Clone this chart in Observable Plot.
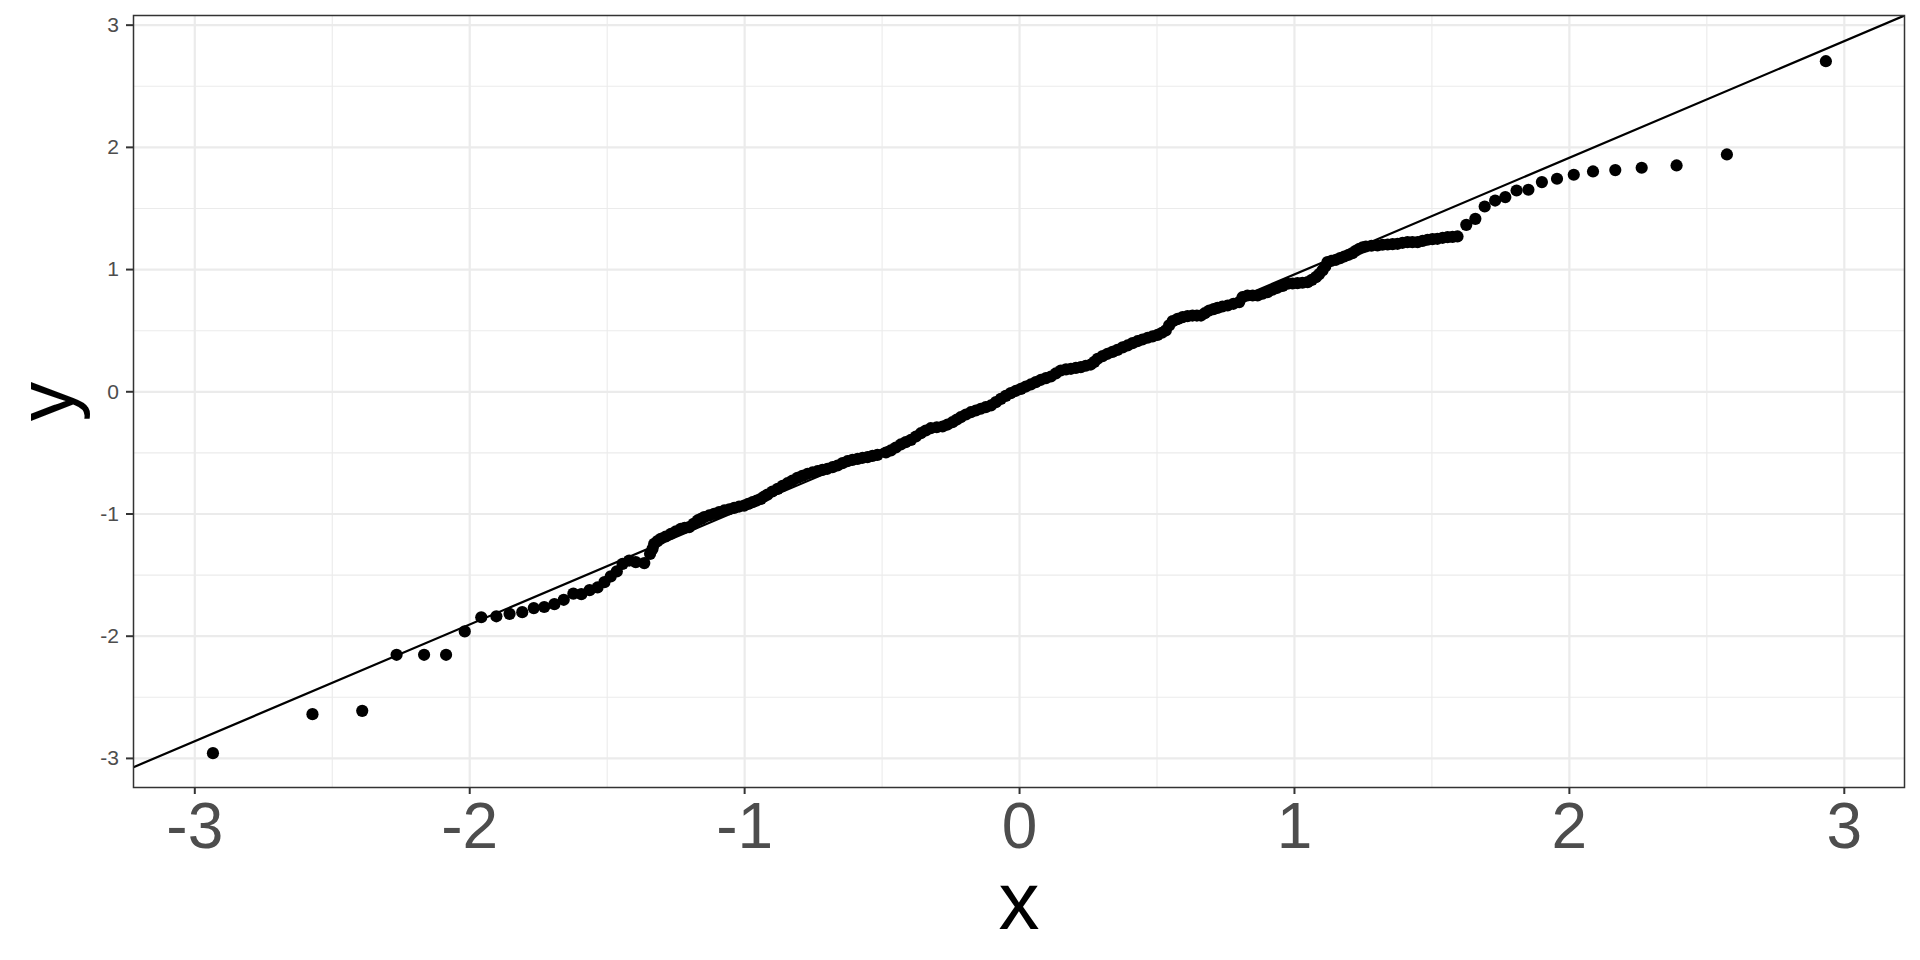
<!DOCTYPE html>
<html><head><meta charset="utf-8">
<script src="https://cdn.jsdelivr.net/npm/d3@7"></script>
<script src="https://cdn.jsdelivr.net/npm/@observablehq/plot@0.6"></script>
<style>html,body{margin:0;padding:0;background:#fff;}</style>
</head><body><div id="chart"></div>
<script>
// theoretical quantiles (x) and sample quantiles (y)
const theoretical = [
-2.934,-2.572,-2.391,-2.266,-2.166,-2.086,-2.018,-1.958,-1.903,-1.855,-1.809,-1.767,-1.729,-1.692,-1.658,-1.623,-1.594,-1.564,-1.535,-1.510,-1.487,-1.465,-1.444,-1.420,-1.396,-1.365,
-1.344,-1.335,-1.329,-1.317,-1.305,-1.287,-1.268,-1.250,-1.232,-1.218,-1.202,-1.186,-1.171,-1.159,-1.147,-1.129,-1.111,-1.093,-1.074,-1.056,-1.038,-1.020,-1.002,-0.987,-0.971,-0.956,-0.941,-0.929,-0.917,-0.899,-0.880,-0.862,-0.844,-0.826,-0.808,-0.790,-0.771,-0.753,-0.735,-0.717,-0.699,-0.680,-0.662,-0.644,-0.626,-0.608,-0.589,-0.571,-0.553,-0.535,-0.517,
-0.486,-0.468,-0.450,-0.432,-0.414,-0.395,-0.377,-0.359,-0.341,-0.323,-0.301,-0.280,-0.262,-0.244,-0.228,-0.214,-0.195,-0.177,-0.159,-0.141,-0.123,-0.104,-0.086,-0.068,-0.050,-0.032,-0.013,0.005,0.023,0.041,0.059,0.078,0.096,0.114,0.132,0.150,0.169,0.187,0.205,0.223,0.241,0.259,0.272,0.284,0.302,0.320,0.338,0.356,0.375,0.393,0.411,0.429,0.447,0.466,0.484,0.502,0.518,0.532,0.544,0.557,0.575,0.593,0.611,0.629,0.645,0.660,0.674,0.690,0.706,0.720,0.738,0.757,0.778,0.799,
0.811,0.829,0.848,0.866,0.884,0.902,0.920,0.938,0.957,0.975,0.993,1.011,1.029,1.048,1.063,1.078,1.090,1.102,1.112,1.120,1.135,1.151,1.166,1.181,1.197,1.211,1.223,1.236,1.248,1.260,1.280,1.302,1.320,1.339,1.357,1.375,1.393,1.411,1.429,1.448,1.466,1.484,1.502,1.520,1.539,1.557,1.575,1.593,
1.625,1.658,1.692,1.730,1.767,1.808,1.851,1.900,1.955,2.016,2.086,2.167,2.263,2.390,2.573,2.933];
const sample = [
-2.957,-2.638,-2.611,-2.152,-2.152,-2.152,-1.961,-1.845,-1.837,-1.817,-1.803,-1.770,-1.761,-1.738,-1.702,-1.652,-1.656,-1.623,-1.601,-1.558,-1.510,-1.470,-1.408,-1.381,-1.394,-1.402,
-1.326,-1.285,-1.244,-1.222,-1.203,-1.184,-1.162,-1.141,-1.121,-1.113,-1.108,-1.081,-1.053,-1.040,-1.026,-1.012,-0.999,-0.985,-0.971,-0.961,-0.950,-0.939,-0.931,-0.917,-0.903,-0.890,-0.876,-0.857,-0.841,-0.816,-0.794,-0.770,-0.748,-0.726,-0.704,-0.688,-0.671,-0.660,-0.650,-0.639,-0.630,-0.617,-0.603,-0.584,-0.568,-0.557,-0.549,-0.540,-0.535,-0.524,-0.516,
-0.497,-0.480,-0.456,-0.431,-0.412,-0.393,-0.366,-0.339,-0.317,-0.298,-0.290,-0.284,-0.268,-0.249,-0.227,-0.208,-0.186,-0.167,-0.153,-0.139,-0.126,-0.112,-0.085,-0.058,-0.033,-0.011,0.008,0.024,0.043,0.060,0.079,0.098,0.112,0.125,0.150,0.174,0.183,0.188,0.196,0.202,0.213,0.223,0.245,0.270,0.292,0.311,0.327,0.343,0.363,0.379,0.398,0.414,0.428,0.442,0.453,0.466,0.483,0.502,0.543,0.578,0.597,0.611,0.619,0.624,0.624,0.624,0.643,0.665,0.676,0.687,0.698,0.706,0.720,0.734,
0.774,0.788,0.788,0.788,0.802,0.815,0.835,0.851,0.867,0.884,0.886,0.889,0.892,0.897,0.916,0.938,0.963,0.993,1.025,1.061,1.072,1.080,1.094,1.107,1.121,1.135,1.154,1.170,1.181,1.189,1.195,1.197,1.203,1.205,1.208,1.211,1.219,1.225,1.225,1.225,1.235,1.244,1.249,1.252,1.260,1.265,1.268,1.271,
1.366,1.415,1.516,1.565,1.593,1.647,1.653,1.716,1.743,1.776,1.803,1.814,1.833,1.852,1.942,2.705];

const xTicks = [-3, -2, -1, 0, 1, 2, 3];
const yTicks = [-3, -2, -1, 0, 1, 2, 3];
const xMinor = [-2.5, -1.5, -0.5, 0.5, 1.5, 2.5];
const yMinor = [-2.5, -1.5, -0.5, 0.5, 1.5, 2.5];
const lineIntercept = 0.0055;
const lineSlope = 0.9548;
const xDomain = [-3.223, 3.219];
const yDomain = [-3.238, 3.079];
const xTitle = "x";
const yTitle = "y";

const points = theoretical.map((x, i) => ({x, y: sample[i]}));
const refLine = xDomain.map(x => ({x, y: lineIntercept + lineSlope * x}));
const fmt = d => String(d);

const chart = Plot.plot({
  width: 1920, height: 960,
  marginLeft: 133, marginRight: 16, marginTop: 15, marginBottom: 173,
  style: {fontFamily: "'Liberation Sans', Arial, Helvetica, sans-serif", background: "#ffffff"},
  x: {domain: xDomain},
  y: {domain: yDomain},
  marks: [
    Plot.gridX(xMinor, {stroke: "#ebebeb", strokeOpacity: 1, strokeWidth: 1.1}),
    Plot.gridY(yMinor, {stroke: "#ebebeb", strokeOpacity: 1, strokeWidth: 1.1}),
    Plot.gridX(xTicks, {stroke: "#ebebeb", strokeOpacity: 1, strokeWidth: 2.2}),
    Plot.gridY(yTicks, {stroke: "#ebebeb", strokeOpacity: 1, strokeWidth: 2.2}),
    Plot.line(refLine, {x: "x", y: "y", stroke: "#000", strokeWidth: 2.2, clip: true}),
    Plot.dot(points, {x: "x", y: "y", r: 6.1, fill: "#000", stroke: "none"}),
    Plot.frame({stroke: "#333333", strokeWidth: 1.5}),
    Plot.axisX(xTicks, {tickSize: 7, tickPadding: 8, fontSize: 64, stroke: "#333333", strokeWidth: 2, fill: "#4d4d4d", tickFormat: fmt, label: null}),
    Plot.axisY(yTicks, {tickSize: 7, tickPadding: 7.5, fontSize: 21, stroke: "#333333", strokeWidth: 2, fill: "#4d4d4d", tickFormat: fmt, label: null}),
    Plot.text([xTitle], {text: d => d, frameAnchor: "bottom", textAnchor: "middle", lineAnchor: "middle", dy: 115, fontSize: 82, fill: "#000"}),
    Plot.text([yTitle], {text: d => d, frameAnchor: "left", textAnchor: "middle", lineAnchor: "middle", rotate: -90, dx: -86, fontSize: 79, fill: "#000"})
  ]
});
document.getElementById("chart").appendChild(chart);
</script>
</body></html>
